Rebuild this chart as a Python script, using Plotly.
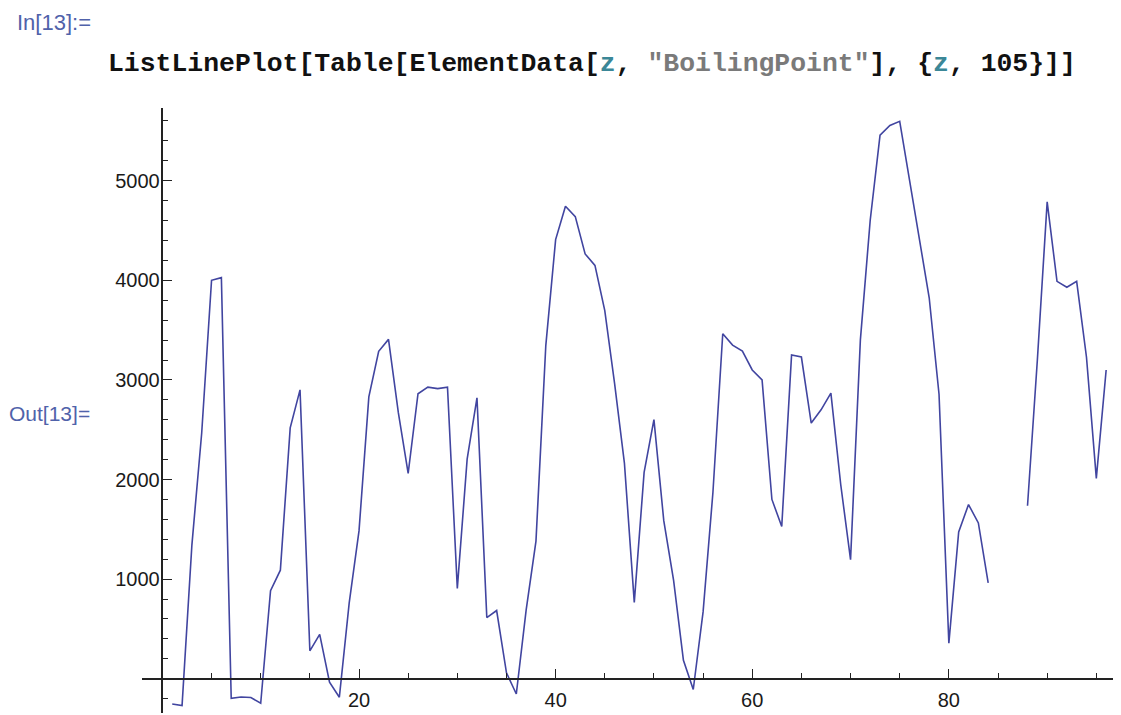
import plotly.graph_objects as go

# Atomic numbers and boiling points (°C); None = missing
z_values = list(range(1, 97))
boiling_points = [
    -252.87, -268.93, 1342, 2470, 4000, 4027, -195.79, -182.95, -188.12, -246.08,
    883, 1090, 2519, 2900, 280.5, 444.6, -34.04, -185.8, 759, 1484,
    2830, 3287, 3407, 2671, 2061, 2861, 2927, 2913, 2927, 907,
    2204, 2820, 614, 685, 59, -153.22, 688, 1382, 3345, 4409,
    4744, 4639, 4265, 4150, 3695, 2963, 2162, 767, 2072, 2602,
    1587, 988, 184.3, -108, 671, 1870, 3464, 3350, 3290, 3100,
    3000, 1800, 1529, 3250, 3230, 2567, 2700, 2868, 1950, 1196,
    3402, 4603, 5458, 5555, 5596, 5012, 4428, 3825, 2856, 357,
    1473, 1749, 1564, 962, None, None, None, 1737, 3198, 4788,
    3990, 3930, 3990, 3228, 2011, 3100,
]
x_major_ticks = [0, 20, 40, 60, 80]
x_major_labels = ["", "20", "40", "60", "80"]
y_major_ticks = [0, 1000, 2000, 3000, 4000, 5000]
y_major_labels = ["", "1000", "2000", "3000", "4000", "5000"]

# page body has an 8px margin: work in screen pixels and offset
OFF = 8
W, H = 1121 - OFF, 715 - OFF
L, R, T, B = 142 - OFF, 1115 - OFF, 108 - OFF, 713 - OFF
x_range = [-2.075, 96.9]
y_range = [-344, 5730]


def px(xp):
    return (xp - OFF - L) / (R - L)


def py(yp):
    return (B - (yp - OFF)) / (B - T)


x_pos = (0 - y_range[0]) / (y_range[1] - y_range[0])
y_pos = (0 - x_range[0]) / (x_range[1] - x_range[0])

axis_col = "#222222"
label_col = "#1a1a1a"
prompt_col = "#5062aa"

fig = go.Figure()
fig.add_trace(go.Scatter(
    x=z_values, y=boiling_points, mode="lines",
    line=dict(color="#4145a0", width=1.6),
    connectgaps=False, showlegend=False, hoverinfo="skip",
))

fig.update_layout(
    width=W, height=H,
    margin=dict(l=L, r=W - R, t=T, b=H - B, autoexpand=False),
    paper_bgcolor="white", plot_bgcolor="white",
    xaxis=dict(
        range=x_range, anchor="free", position=x_pos, side="bottom",
        automargin=False,
        showgrid=False, zeroline=False,
        showline=True, linecolor=axis_col, linewidth=1.5,
        tickmode="array", tickvals=x_major_ticks, ticktext=x_major_labels,
        ticks="inside", ticklen=9, tickwidth=1.3, tickcolor=axis_col,
        ticklabelstandoff=4,
        tickfont=dict(family="Liberation Sans, Arial", size=20, color=label_col),
        minor=dict(tickmode="linear", tick0=0, dtick=5, ticks="inside",
                   ticklen=5, tickwidth=1.2, tickcolor=axis_col, showgrid=False),
    ),
    yaxis=dict(
        range=y_range, anchor="free", position=y_pos, side="left",
        automargin=False,
        showgrid=False, zeroline=False,
        showline=True, linecolor=axis_col, linewidth=1.5,
        tickmode="array", tickvals=y_major_ticks, ticktext=y_major_labels,
        ticks="inside", ticklen=9, tickwidth=1.3, tickcolor=axis_col,
        ticklabelstandoff=-2,
        tickfont=dict(family="Liberation Sans, Arial", size=20, color=label_col),
        minor=dict(tickmode="linear", tick0=0, dtick=200, ticks="inside",
                   ticklen=5, tickwidth=1.2, tickcolor=axis_col, showgrid=False),
    ),
)

code_text = (
    "<b>ListLinePlot[Table[ElementData[<span style='color:#3b8797'>z</span>, "
    "<span style='color:#7a7a7a'>\"BoilingPoint\"</span>], "
    "{<span style='color:#3b8797'>z</span>, 105}]]</b>"
)

fig.add_annotation(
    x=px(15), y=py(22), xref="paper", yref="paper",
    text="In[13]:=", showarrow=False, xanchor="left", yanchor="middle",
    font=dict(family="Liberation Sans, Arial", size=22, color=prompt_col),
)
fig.add_annotation(
    x=px(106), y=py(64), xref="paper", yref="paper",
    text=code_text, showarrow=False, xanchor="left", yanchor="middle",
    font=dict(family="Liberation Mono, Courier New", size=26.45, color="#111111"),
)
fig.add_annotation(
    x=px(7), y=py(413), xref="paper", yref="paper",
    text="Out[13]=", showarrow=False, xanchor="left", yanchor="middle",
    font=dict(family="Liberation Sans, Arial", size=21, color=prompt_col),
)

fig.write_html("out.html")
